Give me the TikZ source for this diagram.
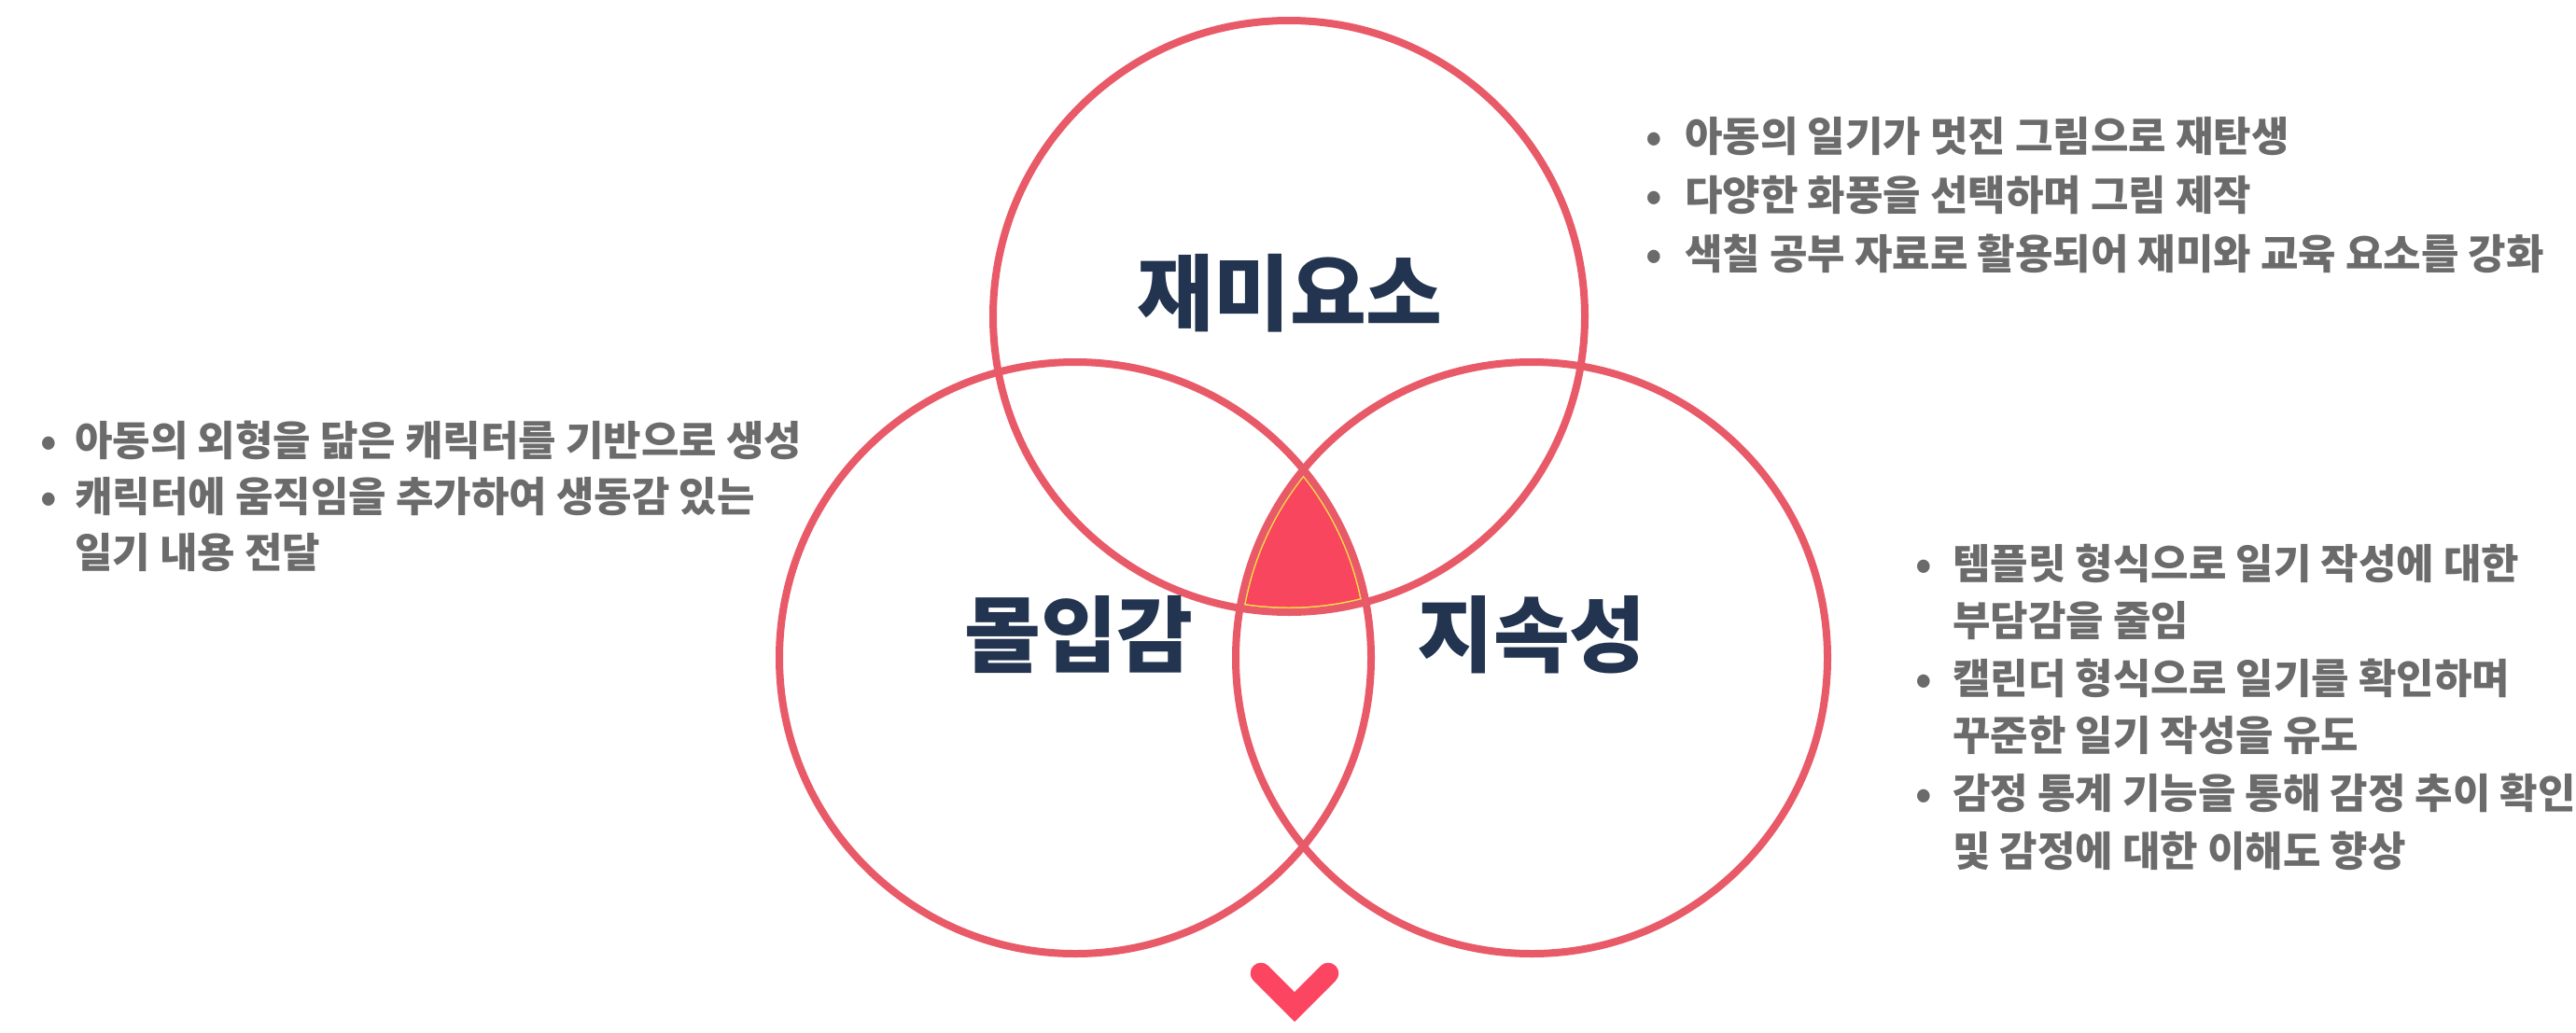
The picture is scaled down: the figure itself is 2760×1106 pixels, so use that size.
\documentclass[tikz,border=0pt]{standalone}
\usepackage{fontspec}
\setmainfont{Noto Sans CJK KR}
\definecolor{ring}{HTML}{E95A69}
\definecolor{core}{HTML}{F9465F}
\definecolor{coreedge}{HTML}{F5E33A}
\definecolor{chevc}{HTML}{FB4561}
\definecolor{txtgray}{HTML}{6B6B6B}
\definecolor{navy}{HTML}{22344F}
\newcommand{\bdot}[1]{\makebox[#1][c]{•}}
\begin{document}
\begin{tikzpicture}[x=1pt,y=-1pt,
  ringnode/.style={circle,draw=ring,line width=8pt,minimum size=634pt,inner sep=0pt},
  titlenode/.style={inner sep=0pt,text=navy,font=\fontsize{89}{95}\selectfont\bfseries},
  bulletnode/.style={inner sep=0pt,anchor=base west,text=txtgray},
  chevline/.style={draw=chevc,line width=22.6pt,line cap=round,line join=miter}]
\useasboundingbox (0,0) rectangle (2760,1106);
% triple overlap fill
\begin{scope}
  \clip (1381,339) circle[radius=313pt];
  \clip (1152,705) circle[radius=313pt];
  \clip (1641,705) circle[radius=313pt];
  \fill[coreedge] (1200,400) rectangle (1600,800);
\end{scope}
\begin{scope}
  \clip (1381,339) circle[radius=311.5pt];
  \clip (1152,705) circle[radius=311.5pt];
  \clip (1641,705) circle[radius=311.5pt];
  \fill[core] (1200,400) rectangle (1600,800);
\end{scope}
% rings
\node[ringnode] (ctop) at (1381,339) {};
\node[ringnode] (cleft) at (1152,705) {};
\node[ringnode] (cright) at (1641,705) {};
% titles
\node[titlenode] (ttop) at (1382,314) {재미요소};
\node[titlenode] (tleft) at (1156,680) {몰입감};
\node[titlenode] (tright) at (1641,680) {지속성};
% bullet blocks
\node[bulletnode] (btop) at (1740,162) {\fontsize{44}{63}\selectfont\bfseries
  \begin{tabular}[t]{@{}l@{}l@{}}
  \bdot{65pt} & 아동의 일기가 멋진 그림으로 재탄생\\
  \bdot{65pt} & 다양한 화풍을 선택하며 그림 제작\\
  \bdot{65pt} & 색칠 공부 자료로 활용되어 재미와 교육 요소를 강화
  \end{tabular}};
\node[bulletnode] (bleft) at (24,488) {\fontsize{44}{60}\selectfont\bfseries
  \begin{tabular}[t]{@{}l@{}l@{}}
  \bdot{56pt} & 아동의 외형을 닮은 캐릭터를 기반으로 생성\\
  \bdot{56pt} & 캐릭터에 움직임을 추가하여 생동감 있는\\
   & 일기 내용 전달
  \end{tabular}};
\node[bulletnode] (bright) at (2030,620) {\fontsize{44}{61.6}\selectfont\bfseries
  \begin{tabular}[t]{@{}l@{}l@{}}
  \bdot{62pt} & 템플릿 형식으로 일기 작성에 대한\\
   & 부담감을 줄임\\
  \bdot{62pt} & 캘린더 형식으로 일기를 확인하며\\
   & 꾸준한 일기 작성을 유도\\
  \bdot{62pt} & 감정 통계 기능을 통해 감정 추이 확인\\
   & 및 감정에 대한 이해도 향상
  \end{tabular}};
% chevron
\coordinate (chl) at (1351,1043);
\coordinate (chm) at (1387,1079);
\coordinate (chr) at (1423,1043);
\draw[chevline] (chl) -- (chm) -- (chr);
\end{tikzpicture}
\end{document}
